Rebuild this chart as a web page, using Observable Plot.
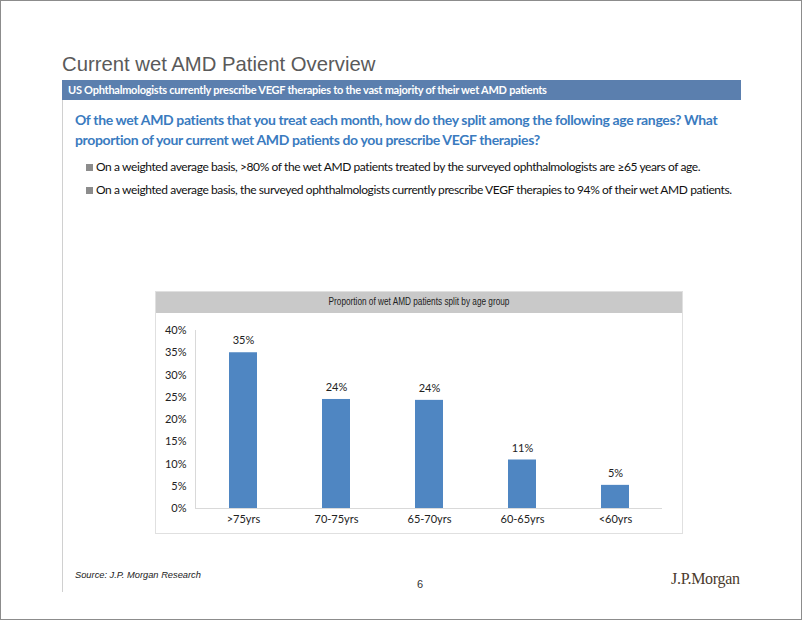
<!DOCTYPE html>
<html>
<head>
<meta charset="utf-8">
<script src="https://cdn.jsdelivr.net/npm/d3@7"></script>
<script src="https://cdn.jsdelivr.net/npm/@observablehq/plot@0.6"></script>
<style>
  html, body { margin: 0; padding: 0; background: #fff; }
  #page { position: relative; width: 802px; height: 620px; overflow: hidden; font-family: Lato, "Open Sans", sans-serif; }
  .abs { position: absolute; white-space: nowrap; }
  #border { left: 0; top: 0; width: 800px; height: 618px; border: 1px solid #8c8c8c; }
  #vline { left: 62px; top: 100px; width: 1px; height: 492px; background: #d0d0d0; }
  #title { left: 62px; top: 53px; font-family: "Liberation Sans", Arial, sans-serif; font-size: 20.3px; color: #5a5a5a; }
  #band { left: 62px; top: 80px; width: 679px; height: 20px; background: #5b7fae; }
  #bandtext { left: 68px; top: 83px; font-size: 11px; letter-spacing: -0.25px; font-weight: bold; color: #fff; }
  #q { left: 75px; top: 110px; font-size: 14px; letter-spacing: -0.36px; font-weight: bold; color: #3a7bbf; line-height: 20px; }
  .bul { left: 86px; width: 7px; height: 7px; background: #8c8c8c; }
  .bt { left: 96px; font-size: 12px; letter-spacing: -0.4px; color: #111; }
  #chartbox { left: 155px; top: 291px; width: 526px; height: 241px; border: 1px solid #e0e0e0; }
  #chead { left: 156px; top: 292px; width: 526px; height: 21px; background: #c9c9c9; }
  #cheadtext { left: 156px; top: 296px; width: 526px; text-align: center; font-family: "Liberation Sans", Arial, sans-serif; font-size: 10.3px; color: #222; transform: scaleX(0.8); transform-origin: 50% 50%; }
  #plot { left: 155px; top: 313px; }
  #source { left: 75px; top: 570px; font-family: "Liberation Sans", Arial, sans-serif; font-style: italic; font-size: 9.3px; color: #222; }
  #pnum { left: 417px; top: 578px; font-family: "Liberation Sans", Arial, sans-serif; font-size: 11px; color: #333; }
  #logo { left: 671px; top: 570px; font-family: "Liberation Serif", "DejaVu Serif", serif; font-size: 16px; color: #4a3a2c; letter-spacing: -0.3px; }
</style>
</head>
<body>
<div id="page">
  <div class="abs" id="border"></div>
  <div class="abs" id="vline"></div>
  <div class="abs" id="title">Current wet AMD Patient Overview</div>
  <div class="abs" id="band"></div>
  <div class="abs" id="bandtext">US Ophthalmologists currently prescribe VEGF therapies to the vast majority of their wet AMD patients</div>
  <div class="abs" id="q">Of the wet AMD patients that you treat each month, how do they split among the following age ranges? What<br>proportion of your current wet AMD patients do you prescribe VEGF therapies?</div>
  <div class="abs bul" style="top:164px"></div>
  <div class="abs bt" style="top:159px">On a weighted average basis, &gt;80% of the wet AMD patients treated by the surveyed ophthalmologists are ≥65 years of age.</div>
  <div class="abs bul" style="top:187px"></div>
  <div class="abs bt" style="top:182px">On a weighted average basis, the surveyed ophthalmologists currently prescribe VEGF therapies to 94% of their wet AMD patients.</div>
  <div class="abs" id="chartbox"></div>
  <div class="abs" id="chead"></div>
  <div class="abs" id="cheadtext">Proportion of wet AMD patients split by age group</div>
  <div class="abs" id="plot"></div>
  <div class="abs" id="source">Source: J.P. Morgan Research</div>
  <div class="abs" id="pnum">6</div>
  <div class="abs" id="logo">J.P.Morgan</div>
</div>
<script>
const categories = [">75yrs", "70-75yrs", "65-70yrs", "60-65yrs", "<60yrs"];
const values = [35.0, 24.5, 24.3, 10.9, 5.2];
const valueLabels = ["35%", "24%", "24%", "11%", "5%"];
const yTicks = [0, 5, 10, 15, 20, 25, 30, 35, 40];

const data = categories.map((c, i) => ({cat: c, v: values[i], label: valueLabels[i]}));

const chart = Plot.plot({
  width: 527,
  height: 219,
  marginLeft: 40,
  marginRight: 20,
  marginTop: 17,
  marginBottom: 24,
  style: {fontFamily: "Lato, 'Open Sans', sans-serif", fontSize: "11px", color: "#222", background: "transparent"},
  x: {domain: categories, paddingInner: 0.7, paddingOuter: 0.35, label: null, tickSize: 0, tickPadding: 7},
  y: {domain: [0, 40], ticks: yTicks, tickFormat: d => d + "%", label: null, tickSize: 0, tickPadding: 9},
  marks: [
    Plot.frame({anchor: "left", stroke: "#d9d9d9"}),
    Plot.ruleY([0], {stroke: "#d9d9d9"}),
    Plot.barY(data, {x: "cat", y: "v", fill: "#4f86c2"}),
    Plot.text(data, {x: "cat", y: "v", text: "label", dy: -12, fontSize: 11, fill: "#222"})
  ]
});
document.getElementById("plot").appendChild(chart);
</script>
</body>
</html>
